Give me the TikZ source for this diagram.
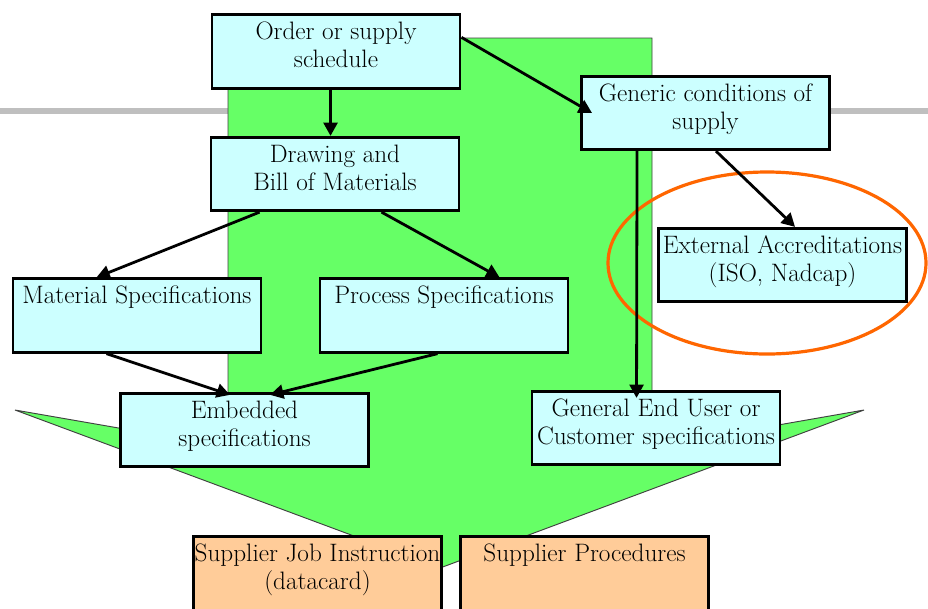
\documentclass[tikz,border=0pt]{standalone}
\usepackage{fontspec}
\usetikzlibrary{arrows.meta,calc}
\definecolor{boxcyan}{HTML}{CCFFFF}
\definecolor{boxorange}{HTML}{FFCC99}
\definecolor{arrowgreen}{HTML}{66FF66}
\definecolor{ringorange}{HTML}{FF6600}
\definecolor{rulegrey}{HTML}{BFBFBF}
\newcommand\twolines[2]{\strut#1\\\strut\rule[-11pt]{0pt}{1pt}#2}
\begin{document}
\begin{tikzpicture}[x=0.75pt,y=-0.75pt,
  box/.style={draw=black, line width=2.2pt, fill=boxcyan, minimum width=186pt,
    minimum height=55pt, inner sep=0pt, align=center,
    font=\fontsize{18.9}{21}\selectfont},
  obox/.style={box, fill=boxorange},
  conn/.style={line width=2.1pt, -{Triangle[length=10pt,width=10.5pt]}},
  greenarrow/.style={fill=arrowgreen, draw=black!75, line width=0.7pt},
  ring/.style={draw=ringorange, line width=2.4pt},
  rule/.style={draw=rulegrey, line width=5pt}]
\clip (0,0) rectangle (928,608);
\fill[white] (0,0) rectangle (928,608);
% grey rule
\draw[rule] (0,111) -- (928,111);
% big green arrow
\draw[greenarrow] (228,38) -- (652,38) -- (652,447) -- (864,410) -- (440,568)
  -- (15,410) -- (228,447) -- cycle;
% orange ring
\draw[ring] (767,263) ellipse [x radius=159, y radius=91];
% boxes
\node[box] (Order) at (336,51.5) {\twolines{Order or supply}{schedule}};
\node[box] (Drawing) at (335,174) {\twolines{Drawing and}{Bill of Materials}};
\node[box] (Generic) at (705.5,113) {\twolines{Generic conditions of}{supply}};
\node[box] (External) at (782.5,265) {\twolines{External Accreditations}{(ISO, Nadcap)}};
\node[box] (Material) at (137,315.5) {\twolines{Material Specifications}{}};
\node[box] (Process) at (444,315.5) {\twolines{Process Specifications}{}};
\node[box] (Embedded) at (244.5,430) {\twolines{Embedded}{specifications}};
\node[box] (General) at (656,428) {\twolines{General End User or}{Customer specifications}};
\node[obox] (SupJob) at (317.5,573.5) {\twolines{Supplier Job Instruction}{(datacard)}};
\node[obox] (SupProc) at (584.5,573.5) {\twolines{Supplier Procedures}{}};
% connectors
\draw[conn] ($(Order.south west)+(120,0)$) -- ($(Drawing.north west)+(121,0)$);
\draw[conn] ($(Order.north east)+(0,24)$) -- ($(Generic.west)+(12,0)$);
\draw[conn] ($(Drawing.south west)+(50,0)$) -- ($(Material.north west)+(85,0)$);
\draw[conn] ($(Drawing.south west)+(172,0)$) -- ($(Process.north west)+(181,0)$);
\draw[conn] ($(Generic.south west)+(136,0)$) -- ($(External.north west)+(138,0)$);
\draw[conn] ($(Generic.south west)+(57,0)$) -- ($(General.north west)+(106,8)$);
\draw[conn] ($(Material.south west)+(95,0)$) -- ($(Embedded.north west)+(111,3)$);
\draw[conn] ($(Process.south west)+(119,0)$) -- ($(Embedded.north west)+(151,3)$);
\end{tikzpicture}
\end{document}
